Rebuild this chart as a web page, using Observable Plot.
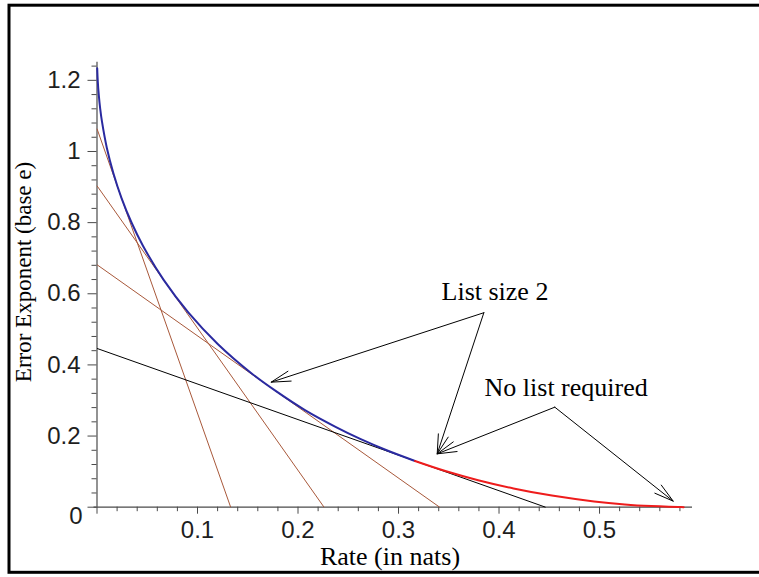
<!DOCTYPE html>
<html>
<head>
<meta charset="utf-8">
<script src="https://cdn.jsdelivr.net/npm/d3@7"></script>
<script src="https://cdn.jsdelivr.net/npm/@observablehq/plot@0.6"></script>
<style>
  html, body { margin: 0; padding: 0; background: white; overflow: hidden; }
</style>
</head>
<body>
<div id="chart"></div>
<script>
// ---- data ----
// envelope curve, list-decoding part (blue)
const blueR = [0.0002, 0.0008, 0.0018, 0.0032, 0.0050, 0.0098, 0.0163, 0.0244, 0.0342, 0.0457, 0.0663, 0.0910, 0.1201, 0.1539, 0.1792, 0.2069, 0.2373, 0.2619, 0.2882, 0.3164];
const blueE = [1.234, 1.196, 1.158, 1.120, 1.083, 1.010, 0.939, 0.869, 0.801, 0.735, 0.639, 0.547, 0.459, 0.376, 0.324, 0.273, 0.226, 0.192, 0.160, 0.130];
// envelope curve, no-list part (red)
const redR = [0.3164, 0.3466, 0.3792, 0.4144, 0.4526, 0.4946, 0.5252, 0.5515, 0.5690, 0.5799, 0.5837];
const redE = [0.130, 0.1018, 0.0760, 0.0528, 0.0327, 0.0163, 0.0079, 0.0031, 0.0011, 0.0004, 0.0002];

// tangent lines: intercept on the E axis and on the R axis
const tangentE0 = [1.064, 0.9035, 0.6817, 0.4463];
const tangentR0 = [0.1330, 0.2259, 0.3409, 0.4463];
const tangentKind = ["list", "list", "list", "critical"];

// annotation arrows
const arrowFromR = [0.3849, 0.3849, 0.4555, 0.4555];
const arrowFromE = [0.5467, 0.5467, 0.2812, 0.2812];
const arrowToR = [0.1733, 0.3385, 0.3385, 0.5733];
const arrowToE = [0.3515, 0.150, 0.150, 0.017];

// annotation texts
const noteText = ["List size 2", "No list required"];
const noteR = [0.3428, 0.3856];
const noteE = [0.5813, 0.3113];

// ticks
const xMajorTicks = [0, 0.1, 0.2, 0.3, 0.4, 0.5];
const xTickLabels = [0.1, 0.2, 0.3, 0.4, 0.5];
const xMinorTicks = [0.02, 0.04, 0.06, 0.08, 0.12, 0.14, 0.16, 0.18, 0.22, 0.24, 0.26, 0.28, 0.32, 0.34, 0.36, 0.38, 0.42, 0.44, 0.46, 0.48, 0.52, 0.54, 0.56, 0.58];
const yMajorTicks = [0, 0.2, 0.4, 0.6, 0.8, 1, 1.2];
const yTickLabels = [0.2, 0.4, 0.6, 0.8, 1, 1.2];
const originLabel = [0];
const yMinorTicks = [0.04, 0.08, 0.12, 0.16, 0.24, 0.28, 0.32, 0.36, 0.44, 0.48, 0.52, 0.56, 0.64, 0.68, 0.72, 0.76, 0.84, 0.88, 0.92, 0.96, 1.04, 1.08, 1.12, 1.16, 1.24];

const xTitle = "Rate (in nats)";
const yTitle = "Error Exponent (base e)";

// ---- tables built from the arrays ----
const blue = blueR.map((r, i) => ({R: r, E: blueE[i]}));
const red = redR.map((r, i) => ({R: r, E: redE[i]}));
const tangents = tangentE0.map((e, i) => ({e0: e, r0: tangentR0[i], kind: tangentKind[i]}));
const arrows = arrowFromR.map((r, i) => ({r1: r, e1: arrowFromE[i], r2: arrowToR[i], e2: arrowToE[i]}));
const notes = noteText.map((t, i) => ({text: t, R: noteR[i], E: noteE[i]}));

const serif = "'Liberation Serif', 'Times New Roman', serif";
const sans = "'Liberation Sans', Arial, Helvetica, sans-serif";
const axisGray = "#4a4a4a";
const labelColor = "#1e1e1e";

const mL = 96.5, mR = 67, mT = 61.7, mB = 70.3;

const chart = Plot.plot({
  width: 759,
  height: 577,
  marginLeft: mL,
  marginRight: mR,
  marginTop: mT,
  marginBottom: mB,
  x: {domain: [0, 0.5925], axis: null, label: null},
  y: {domain: [0, 1.251], axis: null, label: null},
  style: {fontFamily: sans, background: "white", overflow: "visible"},
  marks: [
    // outer border
    Plot.frame({stroke: "black", strokeWidth: 3,
      insetLeft: -(mL - 8.5), insetTop: -(mT - 4.7), insetBottom: -(571.8 - (577 - mB)), insetRight: -(mR + 3)}),
    // axis lines
    Plot.ruleY([0], {stroke: axisGray, strokeWidth: 1.2, insetLeft: -3}),
    Plot.ruleX([0], {stroke: axisGray, strokeWidth: 1.2}),
    // ticks
    Plot.axisX(xMinorTicks, {tickSize: 4.5, tickFormat: () => "", stroke: axisGray, label: null}),
    Plot.axisX(xMajorTicks, {tickSize: 7, tickFormat: () => "", stroke: axisGray, label: null}),
    Plot.axisY(yMinorTicks, {tickSize: 5, tickFormat: () => "", stroke: axisGray, label: null}),
    Plot.axisY(yMajorTicks, {tickSize: 9, tickFormat: () => "", stroke: axisGray, label: null}),
    // tick labels
    Plot.text(xTickLabels, {x: d => d, text: d => String(d), frameAnchor: "bottom", lineAnchor: "top",
      dy: 14, fontSize: 24, fontFamily: sans, fill: labelColor}),
    Plot.text(yTickLabels, {y: d => d, text: d => String(d), frameAnchor: "left", textAnchor: "end",
      lineAnchor: "middle", dx: -16.5, fontSize: 24, fontFamily: sans, fill: labelColor}),
    Plot.text(originLabel, {y: d => d, text: d => String(d), frameAnchor: "left", textAnchor: "end",
      lineAnchor: "middle", dx: -14.5, dy: 9, fontSize: 24, fontFamily: sans, fill: labelColor}),
    // tangent lines
    Plot.link(tangents, {x1: () => 0, y1: "e0", x2: "r0", y2: () => 0,
      stroke: d => d.kind === "critical" ? "black" : "#a8583a", strokeWidth: 1}),
    // envelope
    Plot.line(blue, {x: "R", y: "E", stroke: "#2a2aa0", strokeWidth: 2, curve: "catmull-rom"}),
    Plot.line(red, {x: "R", y: "E", stroke: "#ee1c1c", strokeWidth: 2, curve: "catmull-rom"}),
    // arrows
    Plot.arrow(arrows, {x1: "r1", y1: "e1", x2: "r2", y2: "e2", stroke: "black", strokeWidth: 1,
      headAngle: 30, headLength: 30}),
    // annotations
    Plot.text(notes, {x: "R", y: "E", text: "text", textAnchor: "start", lineAnchor: "bottom",
      fontSize: 26, fontFamily: serif, fill: "black"}),
    // axis titles
    Plot.text([xTitle], {frameAnchor: "bottom", text: d => d, textAnchor: "middle", lineAnchor: "bottom",
      dy: 57.5, dx: -4.75, fontSize: 26, fontFamily: serif, fill: "black"}),
    Plot.text([yTitle], {frameAnchor: "left", text: d => d, rotate: -90, textAnchor: "middle", lineAnchor: "bottom",
      dx: -66.5, dy: -12.7, fontSize: 23, fontFamily: serif, fill: "black"})
  ]
});
document.getElementById("chart").appendChild(chart);
</script>
</body>
</html>
